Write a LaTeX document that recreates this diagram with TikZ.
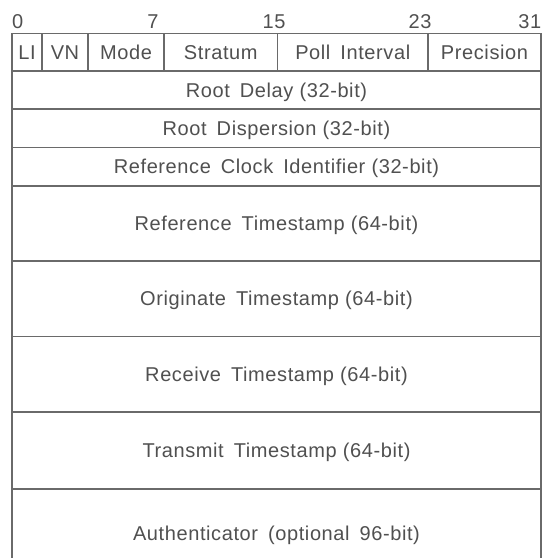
\documentclass[tikz,border=0pt]{standalone}
\usepackage{fontspec}
\setmainfont{Liberation Sans}[LetterSpace=3]
\newcommand{\wgap}{\hspace{0.5em}}
\definecolor{linecol}{HTML}{6A6A6A}
\definecolor{txtcol}{HTML}{505050}
\begin{document}
\begin{tikzpicture}[x=1pt,y=-1pt,
  cell/.style={draw=linecol, line width=1.6pt, inner sep=0pt, text=txtcol,
    font=\fontsize{20}{24}\selectfont, text height=14pt, text depth=0pt},
  bitlbl/.style={inner sep=0pt, text=txtcol, font=\fontsize{20}{24}\selectfont, anchor=base}]
\clip (0,0) rectangle (544,558);
\fill[white] (0,0) rectangle (544,558);
% header row
\node[cell, minimum width=30pt, minimum height=37.5pt] (li) at (27,52.25) {LI};
\node[cell, minimum width=46pt, minimum height=37.5pt] (vn) at (65,52.25) {VN};
\node[cell, minimum width=76pt, minimum height=37.5pt] (mode) at (126,52.25) {Mode};
\node[cell, minimum width=113.5pt, minimum height=37.5pt] (stratum) at (220.75,52.25) {Stratum};
\node[cell, minimum width=150.5pt, minimum height=37.5pt] (poll) at (352.75,52.25) {Poll\wgap Interval};
\node[cell, minimum width=113pt, minimum height=37.5pt] (prec) at (484.5,52.25) {Precision};
% full rows
\node[cell, minimum width=529pt, minimum height=38pt] (rdelay) at (276.5,90) {Root\wgap Delay (32-bit)};
\node[cell, minimum width=529pt, minimum height=38.5pt] (rdisp) at (276.5,128.25) {Root\wgap Dispersion (32-bit)};
\node[cell, minimum width=529pt, minimum height=38.5pt] (refid) at (276.5,166.75) {Reference\wgap Clock\wgap Identifier (32-bit)};
\node[cell, minimum width=529pt, minimum height=75pt] (refts) at (276.5,223.5) {Reference\wgap Timestamp (64-bit)};
\node[cell, minimum width=529pt, minimum height=75.5pt] (orig) at (276.5,298.75) {Originate\wgap Timestamp (64-bit)};
\node[cell, minimum width=529pt, minimum height=75.5pt] (recv) at (276.5,374.25) {Receive\wgap Timestamp (64-bit)};
\node[cell, minimum width=529pt, minimum height=77pt] (trans) at (276.5,450.5) {Transmit\wgap Timestamp (64-bit)};
\node[cell, minimum width=529pt, minimum height=88pt] (auth) at (276.5,533) {Authenticator\wgap (optional\wgap 96-bit)};
% bit labels
\node[bitlbl, anchor=base west] (b0) at (12,28) {0};
\node[bitlbl] (b7) at (153,28) {7};
\node[bitlbl] (b15) at (274,28) {15};
\node[bitlbl] (b23) at (420,28) {23};
\node[bitlbl, anchor=base east] (b31) at (541.5,28) {31};
\end{tikzpicture}
\end{document}
